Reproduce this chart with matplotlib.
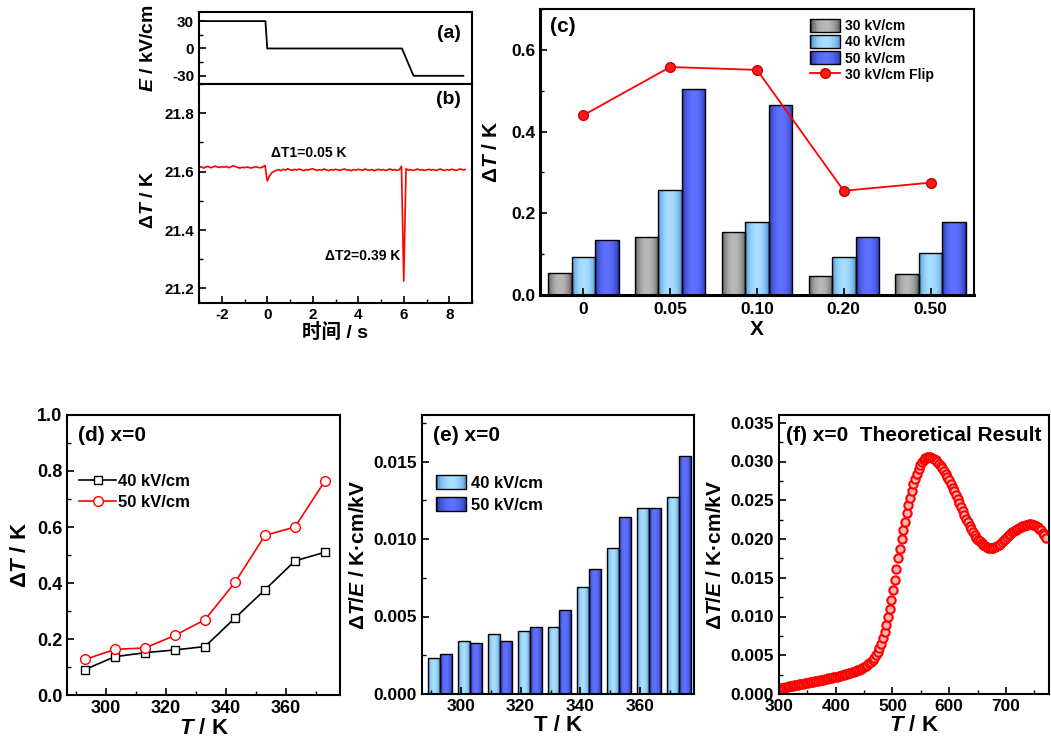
import numpy as np
import matplotlib
matplotlib.use('Agg')
import matplotlib.pyplot as plt
from matplotlib.colors import LinearSegmentedColormap
from matplotlib.legend_handler import HandlerBase
from matplotlib.patches import Rectangle
from matplotlib.ticker import MultipleLocator, FormatStrFormatter

# --- 字体与全局样式 ---
plt.rcParams['font.family'] = ['Liberation Sans', 'Noto Sans CJK SC']
plt.rcParams['font.weight'] = 'bold'
plt.rcParams['axes.labelweight'] = 'bold'
plt.rcParams['axes.unicode_minus'] = False
plt.rcParams['mathtext.fontset'] = 'custom'
plt.rcParams['mathtext.rm'] = 'Liberation Sans:bold'
plt.rcParams['mathtext.it'] = 'Liberation Sans:italic:bold'
plt.rcParams['mathtext.bf'] = 'Liberation Sans:bold'
plt.rcParams['xtick.direction'] = 'in'
plt.rcParams['ytick.direction'] = 'in'
plt.rcParams['axes.linewidth'] = 1.5

# --- (a) 电场波形 ---
t_field = [-3.0, -0.08, 0.0, 5.92, 6.43, 8.62]
E_field = [30, 30, 0, 0, -30, -30]

# --- (b) 温度响应 (0.1 s 采样, 从 -3.0 s 开始) ---
t_start, t_step = -3.0, 0.1
dT_trace = [
    21.614, 21.617, 21.612, 21.616, 21.618, 21.613, 21.615, 21.619, 21.616, 21.614,
    21.617, 21.615, 21.618, 21.613, 21.616, 21.620, 21.617, 21.614, 21.612, 21.615,
    21.613, 21.616, 21.614, 21.612, 21.615, 21.617, 21.614, 21.613, 21.616, 21.621,
    21.568, 21.585, 21.596, 21.601, 21.604,
    21.607, 21.603, 21.608, 21.605, 21.610, 21.606, 21.604, 21.608, 21.605, 21.609,
    21.606, 21.603, 21.607, 21.605, 21.608, 21.610, 21.606, 21.604, 21.607, 21.605,
    21.609, 21.606, 21.603, 21.607, 21.605, 21.608, 21.606, 21.604, 21.607, 21.609,
    21.605, 21.606, 21.603, 21.607, 21.605, 21.608, 21.606, 21.604, 21.609, 21.606,
    21.605, 21.607, 21.603, 21.606, 21.608, 21.605, 21.607, 21.604, 21.606, 21.609,
    21.605, 21.607, 21.604, 21.606,
    21.618, 21.225, 21.610,
    21.605, 21.607, 21.604, 21.606, 21.609, 21.605, 21.607, 21.604, 21.606, 21.608,
    21.605, 21.607, 21.604, 21.606, 21.609, 21.606, 21.604, 21.607, 21.605, 21.608,
    21.606, 21.604, 21.607, 21.609, 21.606, 21.607,
]

# --- (c) 不同组分 ---
x_labels = ['0', '0.05', '0.10', '0.20', '0.50']
dT_30 = [0.053, 0.141, 0.153, 0.046, 0.052]
dT_40 = [0.093, 0.257, 0.178, 0.093, 0.103]
dT_50 = [0.134, 0.505, 0.465, 0.141, 0.179]
dT_flip = [0.440, 0.558, 0.551, 0.255, 0.275]

# --- (d)(e) x=0 温度依赖 ---
T_meas = [293, 303, 313, 323, 333, 343, 353, 363, 373]
dT_40kV = [0.091, 0.137, 0.151, 0.161, 0.173, 0.275, 0.376, 0.479, 0.510]
dT_50kV = [0.127, 0.163, 0.168, 0.213, 0.269, 0.402, 0.570, 0.600, 0.765]
dTE_40kV = [0.00230, 0.00344, 0.00385, 0.00405, 0.00433, 0.00689, 0.00943, 0.01199, 0.01274]
dTE_50kV = [0.00256, 0.00327, 0.00340, 0.00430, 0.00540, 0.00805, 0.01143, 0.01199, 0.01537]

# --- (f) 理论结果 (300 K 起, 步长 3 K), 单位 1e-3 K·cm/kV ---
T_th_start, T_th_step = 300, 3
dTE_theory = [
    0.70, 0.74, 0.79, 0.83, 0.88, 0.92, 0.97, 1.01, 1.06, 1.10,
    1.15, 1.19, 1.24, 1.28, 1.33, 1.37, 1.42, 1.46, 1.51, 1.55,
    1.60, 1.65, 1.69, 1.74, 1.78, 1.83, 1.87, 1.92, 1.96, 2.01,
    2.05, 2.10, 2.14, 2.19, 2.24, 2.30, 2.36, 2.42, 2.48, 2.54,
    2.60, 2.67, 2.74, 2.81, 2.89, 2.97, 3.05, 3.14, 3.23, 3.33,
    3.45, 3.60, 3.76, 3.94, 4.14, 4.38, 4.68, 5.02, 5.44, 5.94,
    6.50, 7.20, 7.98, 8.88, 9.90, 10.95, 12.10, 13.40, 14.75, 16.15,
    17.50, 18.75, 19.95, 21.10, 22.25, 23.30, 24.35, 25.30, 26.20, 27.05,
    27.80, 28.45, 29.05, 29.55, 29.95, 30.25, 30.50, 30.60, 30.62, 30.58,
    30.50, 30.35, 30.15, 29.95, 29.70, 29.45, 29.15, 28.80, 28.42, 28.02,
    27.60, 27.13, 26.64, 26.15, 25.65, 25.15, 24.64, 24.13, 23.62, 23.11,
    22.60, 22.14, 21.69, 21.25, 20.86, 20.50, 20.19, 19.92, 19.68, 19.46,
    19.25, 19.08, 18.95, 18.85, 18.80, 18.80, 18.85, 18.93, 19.05, 19.20,
    19.40, 19.60, 19.82, 20.04, 20.25, 20.46, 20.66, 20.85, 21.02, 21.17,
    21.30, 21.42, 21.54, 21.65, 21.74, 21.81, 21.87, 21.90, 21.90, 21.87,
    21.80, 21.67, 21.52, 21.33, 21.10, 20.83, 20.52, 20.15,
]

# 渐变色 (深 -> 浅)
GRAY = ('#3c3c3c', '#b8b8b8')
LBLUE = ('#2a7cc8', '#a8deff')
BLUE = ('#18248f', '#5e70ff')
PROFILE = np.sin(np.linspace(0.0, np.pi, 64)) ** 0.5


def make_cmap(colors):
    return LinearSegmentedColormap.from_list('g', list(colors))


def gradient_bars(ax, bars, colors):
    cmap = make_cmap(colors)
    for b in bars:
        x0, y0, w, h = b.get_x(), b.get_y(), b.get_width(), b.get_height()
        im = ax.imshow(PROFILE[None, :], cmap=cmap, vmin=0, vmax=1, aspect='auto',
                       extent=(x0, x0 + w, y0, y0 + h), interpolation='bilinear',
                       zorder=1.5)
        im.set_clip_path(b)
        b.set_facecolor('none')
        b.set_zorder(2)


class GradHandler(HandlerBase):
    def __init__(self, colors):
        super().__init__()
        self.cmap = make_cmap(colors)

    def create_artists(self, legend, orig_handle, xdescent, ydescent, width, height, fontsize, trans):
        arts = []
        n = 16
        prof = PROFILE[::4]
        for i in range(n):
            arts.append(Rectangle((-xdescent + i * width / n, -ydescent), width / n + 0.3, height,
                                  facecolor=self.cmap(prof[i]), edgecolor='none', transform=trans))
        arts.append(Rectangle((-xdescent, -ydescent), width, height, facecolor='none',
                              edgecolor='black', lw=1.0, transform=trans))
        return arts


def style_ticks(ax, size):
    ax.tick_params(which='major', length=5, width=1.2, labelsize=size, top=False, right=False)
    ax.tick_params(which='minor', length=3, width=1.0, top=False, right=False)


W, H = 1051, 740
fig = plt.figure(figsize=(10.51, 7.40), dpi=100)


def add_ax(l, t, r, b):
    return fig.add_axes([l / W, 1 - b / H, (r - l) / W, (b - t) / H])


ax_a = add_ax(199, 12, 472, 84)
ax_b = add_ax(199, 84, 472, 303)
ax_c = add_ax(540, 9, 974, 295)
ax_d = add_ax(67, 415, 340, 695)
ax_e = add_ax(422, 415, 694, 694)
ax_f = add_ax(779, 415, 1049, 694)

# ---------- (a) ----------
ax_a.plot(t_field, E_field, color='black', lw=1.3)
ax_a.set_xlim(-3, 9)
ax_a.set_ylim(-39, 40)
ax_a.set_yticks([-30, 0, 30])
ax_a.yaxis.set_minor_locator(MultipleLocator(15))
style_ticks(ax_a, 11)
ax_a.tick_params(axis='x', which='both', bottom=False, labelbottom=False)
ax_a.set_ylabel('$E$ / kV/cm', fontsize=14)
ax_a.yaxis.set_label_coords(-0.155, 0.5)
ax_a.text(0.96, 0.7, '(a)', transform=ax_a.transAxes, ha='right', va='center', fontsize=14)

# ---------- (b) ----------
t_trace = t_start + t_step * np.arange(len(dT_trace))
ax_b.plot(t_trace, dT_trace, color='red', lw=1.2)
ax_b.set_xlim(-3, 9)
ax_b.set_ylim(21.15, 21.9)
ax_b.set_yticks([21.2, 21.4, 21.6, 21.8])
ax_b.yaxis.set_minor_locator(MultipleLocator(0.1))
ax_b.xaxis.set_major_locator(MultipleLocator(2))
ax_b.xaxis.set_minor_locator(MultipleLocator(1))
style_ticks(ax_b, 11)
ax_b.set_xlabel('时间 / s', fontsize=14, labelpad=1)
ax_b.set_ylabel('Δ$T$ / K', fontsize=14)
ax_b.yaxis.set_label_coords(-0.155, 0.47)
ax_b.text(0.96, 0.93, '(b)', transform=ax_b.transAxes, ha='right', va='center', fontsize=14)
ax_b.text(1.83, 21.664, 'ΔT1=0.05 K', ha='center', va='center', fontsize=10)
ax_b.text(4.18, 21.31, 'ΔT2=0.39 K', ha='center', va='center', fontsize=10)

# ---------- (c) ----------
pos = np.arange(1, len(x_labels) + 1)
bw = 0.27
b30 = ax_c.bar(pos - bw, dT_30, bw, edgecolor='black', lw=1.0)
b40 = ax_c.bar(pos, dT_40, bw, edgecolor='black', lw=1.0)
b50 = ax_c.bar(pos + bw, dT_50, bw, edgecolor='black', lw=1.0)
gradient_bars(ax_c, b30, GRAY)
gradient_bars(ax_c, b40, LBLUE)
gradient_bars(ax_c, b50, BLUE)
flip_line, = ax_c.plot(pos, dT_flip, '-o', color='red', lw=1.3, ms=7, mfc='#ff1a1a', mec='#cc0000', zorder=3)
ax_c.set_xlim(0.5, 5.5)
ax_c.set_ylim(0, 0.7)
ax_c.set_xticks(pos)
ax_c.set_xticklabels(x_labels)
ax_c.set_yticks([0.0, 0.2, 0.4, 0.6])
ax_c.yaxis.set_major_formatter(FormatStrFormatter('%.1f'))
ax_c.yaxis.set_minor_locator(MultipleLocator(0.1))
style_ticks(ax_c, 12.5)
ax_c.tick_params(axis='x', pad=5)
for s in ['left', 'bottom']:
    ax_c.spines[s].set_linewidth(2.2)
ax_c.set_xlabel('X', fontsize=15, labelpad=2)
ax_c.set_ylabel('Δ$T$ / K', fontsize=15)
ax_c.yaxis.set_label_coords(-0.09, 0.5)
ax_c.text(0.023, 0.94, '(c)', transform=ax_c.transAxes, ha='left', va='center', fontsize=15)
h30, h40, h50 = Rectangle((0, 0), 1, 1), Rectangle((0, 0), 1, 1), Rectangle((0, 0), 1, 1)
ax_c.legend([h30, h40, h50, flip_line], ['30 kV/cm', '40 kV/cm', '50 kV/cm', '30 kV/cm Flip'],
            handler_map={h30: GradHandler(GRAY), h40: GradHandler(LBLUE), h50: GradHandler(BLUE)},
            loc='upper left', bbox_to_anchor=(0.622, 0.965), frameon=False, fontsize=10,
            handlelength=2.15, handleheight=1.1, labelspacing=0.12, handletextpad=0.35,
            borderpad=0, borderaxespad=0)

# ---------- (d) ----------
ax_d.plot(T_meas, dT_40kV, '-s', color='black', lw=1.2, ms=6, mfc='white', mew=1.0, label='40 kV/cm')
ax_d.plot(T_meas, dT_50kV, '-o', color='red', lw=1.2, ms=7, mfc='white', mew=1.0, label='50 kV/cm')
ax_d.set_xlim(287, 378)
ax_d.set_ylim(0, 1.0)
ax_d.xaxis.set_major_locator(MultipleLocator(20))
ax_d.xaxis.set_minor_locator(MultipleLocator(10))
ax_d.yaxis.set_major_locator(MultipleLocator(0.2))
ax_d.yaxis.set_minor_locator(MultipleLocator(0.1))
ax_d.yaxis.set_major_formatter(FormatStrFormatter('%.1f'))
style_ticks(ax_d, 13)
ax_d.set_xlabel('$T$ / K', fontsize=16, labelpad=1)
ax_d.set_ylabel('Δ$T$ / K', fontsize=16)
ax_d.text(0.04, 0.925, '(d) x=0', transform=ax_d.transAxes, ha='left', va='center', fontsize=15)
ax_d.legend(loc='upper left', bbox_to_anchor=(0.045, 0.79), frameon=False, fontsize=12,
            handlelength=2.2, handletextpad=0.15, labelspacing=0.35, borderpad=0, borderaxespad=0)

# ---------- (e) ----------
bT = np.array(T_meas)
e40 = ax_e.bar(bT - 2, dTE_40kV, 4, edgecolor='black', lw=1.0)
e50 = ax_e.bar(bT + 2, dTE_50kV, 4, edgecolor='black', lw=1.0)
gradient_bars(ax_e, e40, LBLUE)
gradient_bars(ax_e, e50, BLUE)
ax_e.set_xlim(287, 378)
ax_e.set_ylim(0, 0.018)
ax_e.xaxis.set_major_locator(MultipleLocator(20))
ax_e.xaxis.set_minor_locator(MultipleLocator(10))
ax_e.set_yticks([0.0, 0.005, 0.010, 0.015])
ax_e.yaxis.set_minor_locator(MultipleLocator(0.0025))
ax_e.yaxis.set_major_formatter(FormatStrFormatter('%.3f'))
style_ticks(ax_e, 12.5)
ax_e.set_xlabel('T / K', fontsize=16, labelpad=1)
ax_e.set_ylabel('Δ$T/E$ / K·cm/kV', fontsize=15)
ax_e.text(0.04, 0.925, '(e) x=0', transform=ax_e.transAxes, ha='left', va='center', fontsize=15)
g40, g50 = Rectangle((0, 0), 1, 1), Rectangle((0, 0), 1, 1)
ax_e.legend([g40, g50], ['40 kV/cm', '50 kV/cm'],
            handler_map={g40: GradHandler(LBLUE), g50: GradHandler(BLUE)},
            loc='upper left', bbox_to_anchor=(0.053, 0.785), frameon=False, fontsize=12,
            handlelength=1.75, handleheight=0.95, labelspacing=0.35, handletextpad=0.3,
            borderpad=0, borderaxespad=0)

# ---------- (f) ----------
T_theory = T_th_start + T_th_step * np.arange(len(dTE_theory))
ax_f.plot(T_theory, np.array(dTE_theory) * 1e-3, 'o', ls='none', mfc='#ffb4b4', mec='red', ms=6, mew=1.5)
ax_f.set_xlim(300, 776)
ax_f.set_ylim(0, 0.036)
ax_f.xaxis.set_major_locator(MultipleLocator(100))
ax_f.xaxis.set_minor_locator(MultipleLocator(50))
ax_f.yaxis.set_major_locator(MultipleLocator(0.005))
ax_f.yaxis.set_minor_locator(MultipleLocator(0.0025))
ax_f.yaxis.set_major_formatter(FormatStrFormatter('%.3f'))
style_ticks(ax_f, 12.5)
ax_f.set_xlabel('$T$ / K', fontsize=16, labelpad=1)
ax_f.set_ylabel('Δ$T/E$ / K·cm/kV', fontsize=15)
ax_f.text(0.025, 0.925, '(f) x=0  Theoretical Result', transform=ax_f.transAxes,
          ha='left', va='center', fontsize=15)

fig.savefig('out.png', dpi=100)
